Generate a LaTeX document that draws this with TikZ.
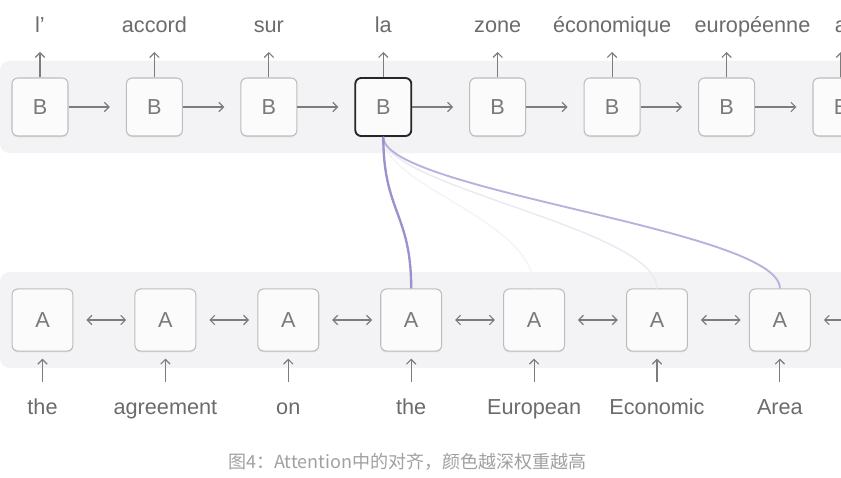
\documentclass[tikz,border=0pt]{standalone}
\usepackage{fontspec}
\setmainfont{Liberation Sans}
\newfontfamily\cjkfont{Noto Sans CJK SC}
\usetikzlibrary{arrows.meta,shadows}
\definecolor{bandgray}{HTML}{F3F3F6}
\definecolor{boxfill}{HTML}{FBFBFC}
\definecolor{boxgray}{HTML}{BDBDBD}
\definecolor{lettergray}{HTML}{7A7A7A}
\definecolor{wordgray}{HTML}{6B6B6B}
\definecolor{arrowgray}{HTML}{7C7C7C}
\definecolor{attnA}{HTML}{9C90CE}
\definecolor{attnB}{HTML}{B9B1DD}
\definecolor{attnC}{HTML}{ECEAF3}
\definecolor{attnD}{HTML}{F4F3F8}
\definecolor{captiongray}{HTML}{A0A0A0}

\begin{document}
\begin{tikzpicture}[x=0.03cm, y=-0.03cm, >={Straight Barb[length=4pt,width=8pt]},
    every node/.style={font=\fontsize{18.5}{20}\selectfont},
    cell/.style={draw=boxgray, line width=0.9pt, fill=boxfill, rounded corners=5pt, text=lettergray,
      drop shadow={shadow xshift=0pt, shadow yshift=-1.2pt, opacity=0.18, fill=black!40}},
    bcell/.style={cell, minimum width=47.8pt, minimum height=49.5pt},
    acell/.style={cell, minimum width=52pt, minimum height=53pt},
    word/.style={text=wordgray, inner sep=0pt, text height=13pt, text depth=4pt, anchor=base},
    link/.style={draw=arrowgray, line width=1pt}]
    \useasboundingbox (0,0) rectangle (841,478);
    \clip (0,0) rectangle (841,478);
    \fill[bandgray, rounded corners=8pt] (0,61) rectangle (900,153);
    \fill[bandgray, rounded corners=8pt] (0,272) rectangle (900,368);

    \node[bcell] (b1) at (40,107) {B};
    \node[bcell] (b2) at (154.4,107) {B};
    \node[bcell] (b3) at (268.9,107) {B};
    \node[bcell, draw=black!85, line width=1.6pt] (b4) at (383.3,107) {B};
    \node[bcell] (b5) at (497.7,107) {B};
    \node[bcell] (b6) at (612.1,107) {B};
    \node[bcell] (b7) at (726.6,107) {B};
    \node[bcell] (b8) at (841,107) {B};

    \node[word] (w1) at (40,33) {l’};
    \node[word] (w2) at (154.4,33) {accord};
    \node[word] (w3) at (268.9,33) {sur};
    \node[word] (w4) at (383.3,33) {la};
    \node[word] (w5) at (497.7,33) {zone};
    \node[word] (w6) at (612.1,33) {économique};
    \node[word] (w7) at (752.5,33) {européenne};
    \node[word] (w8) at (841,33) {a};

    \node[acell] (a1) at (42.5,320) {A};
    \node[acell] (a2) at (165.4,320) {A};
    \node[acell] (a3) at (288.3,320) {A};
    \node[acell] (a4) at (411.2,320) {A};
    \node[acell] (a5) at (534.1,320) {A};
    \node[acell] (a6) at (657,320) {A};
    \node[acell] (a7) at (779.9,320) {A};
    \coordinate (a8w) at (872.3,320);

    \node[word] (s1) at (42.5,414) {the};
    \node[word] (s2) at (165.4,414) {agreement};
    \node[word] (s3) at (288.3,414) {on};
    \node[word] (s4) at (411.2,414) {the};
    \node[word] (s5) at (534.1,414) {European};
    \node[word] (s6) at (657,414) {Economic};
    \node[word] (s7) at (779.9,414) {Area};

    \draw[link, ->, shorten >=12pt] (b1) -- (b1 |- w1.south);
    \draw[link, ->, shorten >=12pt] (b2) -- (w2);
    \draw[link, ->, shorten >=12pt] (b3) -- (w3);
    \draw[link, ->, shorten >=12pt] (b4) -- (w4);
    \draw[link, ->, shorten >=12pt] (b5) -- (w5);
    \draw[link, ->, shorten >=12pt] (b6) -- (w6);
    \draw[link, ->, shorten >=12pt] (b7) -- (b7 |- w7.south);
    \draw[link, ->, shorten >=12pt] (b8) -- (w8);

    \draw[link, ->, shorten >=13.7pt] (b1) -- (b2);
    \draw[link, ->, shorten >=13.7pt] (b2) -- (b3);
    \draw[link, ->, shorten >=13.7pt] (b3) -- (b4);
    \draw[link, ->, shorten >=13.7pt] (b4) -- (b5);
    \draw[link, ->, shorten >=13.7pt] (b5) -- (b6);
    \draw[link, ->, shorten >=13.7pt] (b6) -- (b7);
    \draw[link, ->, shorten >=13.7pt] (b7) -- (b8);

    \draw[link, <->, shorten <=11pt, shorten >=7pt] (a1) -- (a2);
    \draw[link, <->, shorten <=11pt, shorten >=7pt] (a2) -- (a3);
    \draw[link, <->, shorten <=11pt, shorten >=7pt] (a3) -- (a4);
    \draw[link, <->, shorten <=11pt, shorten >=7pt] (a4) -- (a5);
    \draw[link, <->, shorten <=11pt, shorten >=7pt] (a5) -- (a6);
    \draw[link, <->, shorten <=11pt, shorten >=7pt] (a6) -- (a7);
    \draw[link, <->, shorten <=11pt, shorten >=7pt] (a7) -- (a8w);

    \draw[link, ->, shorten <=14.3pt, shorten >=6pt] (s1) -- (a1);
    \draw[link, ->, shorten <=14.3pt, shorten >=6pt] (s2) -- (a2);
    \draw[link, ->, shorten <=14.3pt, shorten >=6pt] (s3) -- (a3);
    \draw[link, ->, shorten <=14.3pt, shorten >=6pt] (s4) -- (a4);
    \draw[link, ->, shorten <=14.3pt, shorten >=6pt] (s5) -- (a5);
    \draw[link, ->, shorten <=14.3pt, shorten >=6pt] (s6) -- (a6);
    \draw[link, ->, shorten <=14.3pt, shorten >=6pt] (s7) -- (a7);

    % attention weights, darker = stronger
    \draw[attnD, line width=1.2pt] (b4.south) .. controls +(0,50) and +(0,-70) .. (a5.north);
    \draw[attnC, line width=1.4pt] (b4.south) .. controls +(0,50) and +(0,-60) .. (a6.north);
    \draw[attnB, line width=1.6pt] (b4.south) .. controls +(0,54) and +(0,-59) .. (a7.north);
    \draw[attnA, line width=2pt] (b4.south) .. controls +(0,75) and +(0,-75) .. (a4.north);

    \node[font=\cjkfont\fontsize{15.4}{18}\selectfont, text=captiongray] (cap) at (407.5,462) {图4：Attention中的对齐，颜色越深权重越高};
  \end{tikzpicture}
\end{document}
